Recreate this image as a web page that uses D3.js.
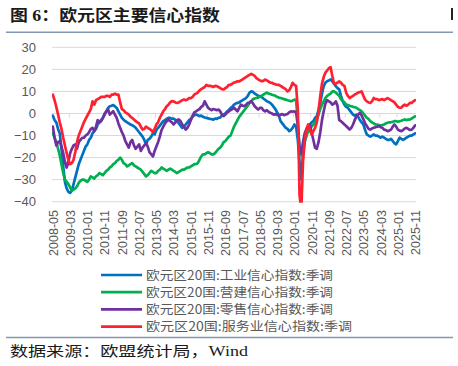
<!DOCTYPE html>
<html><head><meta charset="utf-8">
<script src="https://cdn.jsdelivr.net/npm/d3@7"></script>
<style>body{margin:0;background:#fff}svg{display:block}</style>
</head><body><svg id="c" width="458" height="366"></svg>
<script>
const startYear = 2008, startMonth = 5, monthCount = 211;
const tickLabels = ["2008-05","2009-03","2010-01","2010-11","2011-09","2012-07","2013-05","2014-03","2015-01","2015-11","2016-09","2017-07","2018-05","2019-03","2020-01","2020-11","2021-09","2022-07","2023-05","2024-03","2025-01","2025-11"];
const yTicks = [30,20,10,0,-10,-20,-30,-40];
const seriesNames = ["欧元区20国:工业信心指数:季调","欧元区20国:营建信心指数:季调","欧元区20国:零售信心指数:季调","欧元区20国:服务业信心指数:季调"];
const seriesColors = ["#0070C0","#00B050","#7030A0","#FF2030"];

const industry = [
-1,-3,-4,-7,-9,-16,-24,-31,
-34,-35.5,-36,-35,-32,-29,-26,-23,-21,-19,-17,-15,
-14,-12,-11,-9,-8,-7,-5,-4,-3,-2,0,1,
2.5,3.3,3.5,3.8,3.2,2.5,1,-0.5,-2,-2.8,-3.5,-4,
-4.5,-5,-5.3,-5.8,-6.5,-7.5,-8.5,-9.5,-10.5,-12,-14,-12,
-11.5,-10.5,-9,-9.5,-7.5,-6.5,-5.5,-4.5,-3.5,-3,-2.5,-2,
-2,-2.5,-2.3,-3,-3.5,-4.5,-5.5,-6.5,-6,-5,-4,-3,
-2.5,-1.5,-0.8,-0.5,-0.8,-1.2,-1,-1.5,-1.8,-2,-2.2,-2.5,
-2.5,-2.8,-2.3,-2.5,-2,-1.8,-1,-0.5,0,1,1.5,2.5,
3,4,4.5,4.8,5,5.6,6,6.5,7,8,9.5,10,
9.8,9,8.5,8,7.9,7.5,6.8,6.2,5.6,5.2,4.8,4,
3,2,0.5,-1,-3.5,-4.5,-5.5,-6.5,-7,-8,-7.5,-6.5,
-5,-6,-12,-22,-30,-18,-13,-10,-7,-5,-4,-3.5,
-2,-1.2,1.5,4.8,9,12.4,14,14.6,15,15.4,14.5,13.5,
12.4,11.5,10.9,8,5.6,4,3,2.6,1.5,0.5,-0.5,-1,
-0.5,-1.5,-3,-4,-5,-7.5,-9.5,-10,-10.5,-10,-9.5,-10,
-10,-10.5,-11,-10.5,-11,-11.5,-12,-12,-11.5,-12.5,-13.5,-14,
-12.5,-11,-11.5,-12,-11.5,-11,-10.5,-10,-10,-9.5,-9
];
const construction = [
-9,-11,-13,-16,-19,-23,-27,-30,
-31,-32,-33.5,-35,-34.5,-34,-33,-31.5,-30.5,-30,-30,-30.5,
-31,-30,-28.5,-29,-29.5,-28.5,-28,-27,-27.5,-28,-27,-26,
-25.5,-24.5,-24,-23,-22.5,-21.5,-21,-20,-21,-22.5,-23,-24,
-23.5,-23,-22.5,-23.5,-24,-24.5,-25,-25.5,-26.5,-27.5,-28.5,-28,
-27,-26,-26.5,-27,-27,-26,-25.5,-24.5,-25,-25.5,-26,-25.5,
-25,-25.5,-26,-26.5,-27,-26.5,-26,-25.5,-25.5,-25,-24.5,-24.5,
-24,-23.5,-23,-23,-22.5,-21,-19.5,-18.5,-18.5,-18,-17.5,-18,
-18.5,-18.5,-18,-17,-16,-15.5,-14.5,-13,-12.5,-11.5,-10.5,-10,
-8,-6,-4.5,-3,-1.5,-0.5,0.5,1.5,2.5,3.5,4.8,5.5,
6.5,6.8,7,7.2,7.5,8,8.5,9,9.5,9,8.8,8.5,
8.3,8,7.5,7.2,7,6.8,6.5,6.3,6,5.8,5.5,5.8,
6.3,6,-4,-16,-19,-15,-12,-10,-8,-6.5,-6,-5,
-4,-2.5,-0.5,2,4,5.5,7,8,8.5,9,10,10,
9.5,8.7,8,6.5,5.8,5,4,3.8,3.5,3.3,3,2.8,
2.6,2,1.5,1,0,-1,-2,-2.5,-3.5,-4,-4.5,-5,
-5,-5.3,-5.5,-5.2,-5,-4.5,-4.2,-4,-4,-3.8,-3.5,-3.5,
-3.8,-3.5,-3.3,-3,-2.7,-3,-2.8,-2.7,-2.3,-1.8,-1.3
];
const retail = [
-6,-11,-14.5,-13,-12.5,-15,-18,-22,
-24.5,-22,-18,-16,-14.5,-14,-16,-13,-12,-11,-11,-10,
-9.5,-8.5,-7,-6.5,-8,-6,-3,-4,-3.5,-2,-0.5,1,
1.8,-0.5,0.2,1,-0.5,-2,-4.5,-6.5,-8.5,-10,-12.5,-14,
-15.5,-13,-12,-14.5,-16,-15,-14,-17,-15.5,-14.5,-13.5,-15,
-17.5,-18.5,-19.5,-17,-15,-13,-10.5,-7.5,-6,-4.5,-3.5,-2.7,
-3.5,-4,-5,-4,-3,-2.7,-3.5,-5,-6,-7.3,-6.5,-5,
-3,-1,0.5,1,1.5,2,3,3.5,5.5,4,2.5,2,
1.5,2,1.8,1.5,1.8,1,-0.5,-1.2,-0.5,0.5,1,1.5,
2,2.6,1.8,1,2.5,4,3.5,3.3,4,4.8,5,5.6,
4.5,3.3,2.5,1.8,2.5,2.6,1.5,1,1.5,0.8,0.3,0,
-0.5,-0.3,-0.5,-1,-0.5,-0.3,-0.8,-0.5,-0.2,0.5,1,0.8,
1,0.5,-5.5,-16,-18,-13,-9,-7,-6,-5,-8.5,-12,
-15.5,-16,-13,-8.5,-3,1,4.5,6,5.5,5,4,4.5,
5.5,3.5,-3,-3.5,-4.2,-5,-5.7,-6.5,-7.3,-6.5,-5,-3,
-1.2,-0.5,0.3,-1,-2.7,-4.5,-5.7,-7,-7.3,-6.8,-6.5,-6.2,
-6,-5.7,-6.2,-6.5,-7.3,-7.5,-8,-7.8,-7.3,-6,-5,-6,
-7.3,-7.8,-8,-7.5,-6.8,-6.5,-7,-7.5,-7.3,-6.5,-5.4
];
const services = [
8.5,6,3,-0.5,-4,-7,-11,-14.5,
-18,-21,-23,-22.5,-21,-17.5,-13,-10,-8,-6,-4,-2.5,
-1,0.5,2,5.5,4,6,6.5,7,7.5,7.5,7.5,8,
8,7.5,8.5,8.5,9,8.5,8.6,5,2,1.5,0.5,0,
-0.5,-1.5,-2,-2.7,-3.5,-4,-4.5,-6,-7.3,-7,-6,-6.5,
-7,-7.5,-8.5,-7,-5,-4,-2,-0.5,1,2,3.3,4,
5,5.6,5.5,5,4.8,5,5.5,6,6.3,6,6.3,7,
7,7.5,8.6,9,9.5,10.5,11,11.5,12,13,12.5,12.5,
12.4,12,12.5,12.4,12,11.5,11,10.9,11.5,12,13,13,
13.5,14,14.2,14.6,14.5,15,15.5,16,16.5,17,17.5,18,
17.5,17,16,15.5,15,14.6,14.8,15.4,15,14.5,14,13.9,
13.5,13.2,13,13,12.5,12,11.5,11,10,10.5,12,13.9,
13,12.5,2,-37,-44,-22,-12,-7,-5,-7.5,-9.5,-8,
-6.5,-4,1,8,13.5,16.5,18.5,19.5,20.5,21,17,13.5,
13.5,14,14.5,14,13,12.5,9.5,8,7,7.5,8,8.6,
9,9.5,9.7,10,8,6.3,5.5,5,4.8,5.5,7,6.5,
6.5,6,6.3,6.5,6,6.5,7,6.5,6,5.6,5,4,
3,2.6,2.6,3.5,4,3.5,4,4.8,4.8,5.5,6
];
const seriesValues = [industry, construction, retail, services];

const categories = d3.range(monthCount).map(i => {
  const m = startMonth - 1 + i;
  return `${startYear + Math.floor(m / 12)}-${String(m % 12 + 1).padStart(2, "0")}`;
});

const svg = d3.select("#c");
svg.append("rect").attr("width",458).attr("height",366).attr("fill","#fff");

const plotLeft = 52, plotRight = 416, plotTop = 47.3, plotBottom = 201.7;
const x = d3.scalePoint().domain(categories).range([plotLeft, plotRight]).padding(0.5);
const y = d3.scaleLinear().domain([-40, 30]).range([plotBottom, plotTop]);
const step = x.step();

// title
svg.append("text").attr("x",10).attr("y",20.5)
  .attr("font-family","'Liberation Serif','Noto Sans CJK SC'").attr("font-weight","bold")
  .attr("font-size",16).attr("fill","#1a1a1a")
  .attr("textLength",210).attr("lengthAdjust","spacingAndGlyphs")
  .text("图 6：欧元区主要信心指数");
svg.append("rect").attr("x",451).attr("y",8).attr("width",2).attr("height",12).attr("fill","#222");
svg.append("line").attr("x1",6).attr("x2",453).attr("y1",32.3).attr("y2",32.3)
  .attr("stroke","#8497B0").attr("stroke-width",1.5);

// gridlines
svg.append("g").selectAll("line").data(yTicks).join("line")
  .attr("x1",plotLeft).attr("x2",plotRight).attr("y1",d=>y(d)).attr("y2",d=>y(d))
  .attr("stroke","#D9D9D9").attr("stroke-width",1);

// category tick marks on the zero axis
const tickIdx = d3.range(0, monthCount, 10);
svg.append("g").selectAll("line").data(tickIdx).join("line")
  .attr("x1",i=>x(categories[i]) - step/2).attr("x2",i=>x(categories[i]) - step/2)
  .attr("y1",y(0)).attr("y2",y(0)+4)
  .attr("stroke","#D9D9D9").attr("stroke-width",1);

// y axis labels
const yAxis = svg.append("g").attr("transform",`translate(${plotLeft},0)`)
  .call(d3.axisLeft(y).tickValues(yTicks).tickSize(0).tickPadding(16).tickFormat(d3.format("d")));
yAxis.select(".domain").remove();
yAxis.selectAll("text").attr("font-family","'Liberation Sans',Arial,sans-serif")
  .attr("font-size",13).attr("fill","#595959");

// x axis labels
const xAxis = svg.append("g").attr("transform",`translate(0,206)`)
  .call(d3.axisBottom(x).tickValues(tickLabels).tickSize(0).tickPadding(0));
xAxis.select(".domain").remove();
xAxis.selectAll("text").attr("font-family","'Liberation Sans',Arial,sans-serif")
  .attr("font-size",12.5).attr("fill","#595959")
  .attr("transform","rotate(-90)").attr("text-anchor","end")
  .attr("x",-4).attr("y",0).attr("dy","0.35em");

// lines
svg.append("clipPath").attr("id","clip").append("rect")
  .attr("x",plotLeft).attr("y",plotTop-3).attr("width",plotRight-plotLeft).attr("height",plotBottom-plotTop+4);
const line = d3.line().x((d,i)=>x(categories[i])).y(d=>y(d));
svg.append("g").attr("clip-path","url(#clip)").selectAll("path").data(seriesValues).join("path")
  .attr("d",d=>line(d)).attr("fill","none")
  .attr("stroke",(d,i)=>seriesColors[i]).attr("stroke-width",2.7)
  .attr("stroke-linejoin","round").attr("stroke-linecap","round");

// legend
const legW = [187,187,187,206];
const leg = svg.append("g").selectAll("g").data(seriesNames).join("g")
  .attr("transform",(d,i)=>`translate(0,${275 + i*17.2})`);
leg.append("line").attr("x1",101).attr("x2",142).attr("y1",0).attr("y2",0)
  .attr("stroke",(d,i)=>seriesColors[i]).attr("stroke-width",2.7);
leg.append("text").attr("x",146).attr("y",4.6)
  .attr("font-family","'Noto Sans CJK SC',sans-serif").attr("font-size",12.5).attr("fill","#595959")
  .attr("textLength",(d,i)=>legW[i]).attr("lengthAdjust","spacingAndGlyphs")
  .text(d=>d);

// bottom rule & source
svg.append("line").attr("x1",6).attr("x2",453).attr("y1",337.5).attr("y2",337.5)
  .attr("stroke","#8497B0").attr("stroke-width",1.5);
svg.append("text").attr("x",10).attr("y",356)
  .attr("font-family","'Liberation Serif','Noto Sans CJK SC'")
  .attr("font-size",14).attr("fill","#1a1a1a")
  .attr("textLength",238).attr("lengthAdjust","spacingAndGlyphs")
  .text("数据来源：欧盟统计局，Wind");
</script></body></html>
